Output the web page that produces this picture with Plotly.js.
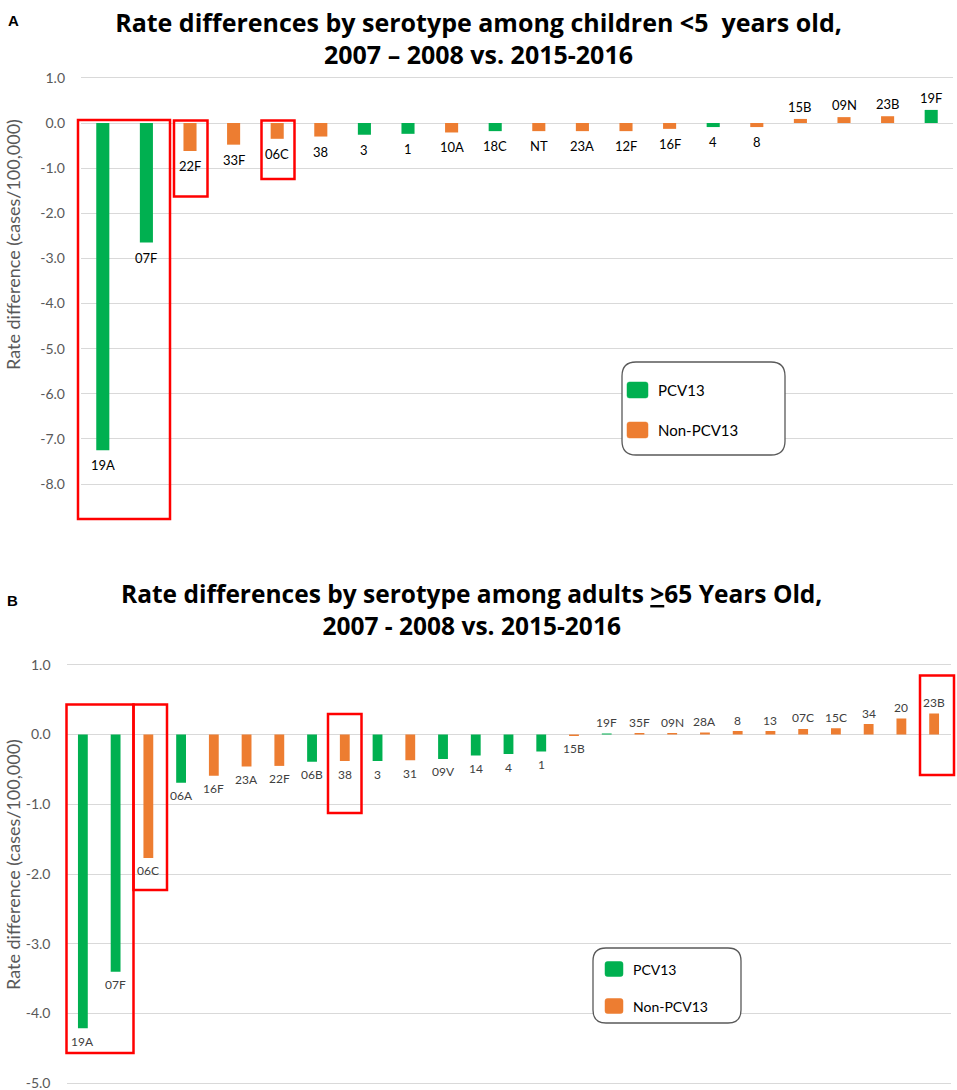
<!DOCTYPE html>
<html><head><meta charset="utf-8">
<script src="https://cdn.plot.ly/plotly-3.0.1.min.js"></script>
<style>html,body{margin:0;padding:0;background:#fff}#chart{width:957px;height:1090px}</style>
</head><body><div id="chart"></div>
<script>
// ---------- data ----------
const seriesNames = ['PCV13', 'Non-PCV13'];
const seriesColors = ['#00B050', '#ED7D31'];

const childCategories = ['19A','07F','22F','33F','06C','38','3','1','10A','18C','NT','23A','12F','16F','4','8','15B','09N','23B','19F'];
const childValues = [-7.25,-2.65,-0.62,-0.48,-0.35,-0.30,-0.26,-0.24,-0.21,-0.18,-0.18,-0.18,-0.18,-0.13,-0.09,-0.09,0.09,0.13,0.15,0.29];
const childGroup = ['PCV13','PCV13','Non-PCV13','Non-PCV13','Non-PCV13','Non-PCV13','PCV13','PCV13','Non-PCV13','PCV13','Non-PCV13','Non-PCV13','Non-PCV13','Non-PCV13','PCV13','Non-PCV13','Non-PCV13','Non-PCV13','Non-PCV13','PCV13'];

const adultCategories = ['19A','07F','06C','06A','16F','23A','22F','06B','38','3','31','09V','14','4','1','15B','19F','35F','09N','28A','8','13','07C','15C','34','20','23B'];
const adultValues = [-4.21,-3.40,-1.77,-0.69,-0.59,-0.46,-0.45,-0.39,-0.38,-0.38,-0.37,-0.35,-0.30,-0.28,-0.245,-0.02,0.015,0.02,0.02,0.03,0.05,0.05,0.08,0.09,0.15,0.23,0.30];
const adultGroup = ['PCV13','PCV13','Non-PCV13','PCV13','Non-PCV13','Non-PCV13','Non-PCV13','PCV13','Non-PCV13','PCV13','Non-PCV13','PCV13','PCV13','PCV13','PCV13','Non-PCV13','PCV13','Non-PCV13','Non-PCV13','Non-PCV13','Non-PCV13','Non-PCV13','Non-PCV13','Non-PCV13','Non-PCV13','Non-PCV13','Non-PCV13'];

const childTickVals = [1,0,-1,-2,-3,-4,-5,-6,-7,-8];
const childTickText = ['1.0','0.0','-1.0','-2.0','-3.0','-4.0','-5.0','-6.0','-7.0','-8.0'];
const adultTickVals = [1,0,-1,-2,-3,-4,-5];
const adultTickText = ['1.0','0.0','-1.0','-2.0','-3.0','-4.0','-5.0'];

const childTitle = '<b>Rate differences by serotype among children &lt;5  years old,<br>2007 – 2008 vs. 2015-2016</b>';
const adultTitle = '<b>Rate differences by serotype among adults <u>&gt;</u>65 Years Old,<br>2007 - 2008 vs. 2015-2016</b>';
const yTitle = 'Rate difference (cases/100,000)';

// ---------- helpers ----------
const W = 957, H = 1090;
const px = v => v / W;
const py = v => 1 - v / H;
const FONT = 'Lato, "Open Sans", sans-serif';
const TFONT = '"Open Sans", Lato, sans-serif';

function makeTraces(cats, vals, groups, xa, ya) {
  return seriesNames.map((name, k) => {
    const x = [], y = [];
    cats.forEach((c, i) => { if (groups[i] === name) { x.push(c); y.push(vals[i]); } });
    return { type: 'bar', name, x, y, xaxis: xa, yaxis: ya, width: 0.3,
      marker: { color: seriesColors[k], line: { width: 0 } }, showlegend: false, hoverinfo: 'x+y' };
  });
}
// labels placed at the category index (avoids numeric-looking category names being read as indices)
function labelAnns(cats, vals, xa, ya, size, color, dn, up) {
  return cats.map((c, i) => ({ xref: xa, yref: ya, x: i, y: vals[i], text: c, showarrow: false,
    xanchor: 'center', yanchor: 'middle',
    yshift: vals[i] < 0 ? -dn : up, font: { family: FONT, size, color } }));
}
function rectShape(x0, y0, x1, y1) {
  return { type: 'rect', xref: 'paper', yref: 'paper', x0: px(x0), x1: px(x1), y0: py(y1), y1: py(y0),
    line: { color: '#FF0000', width: 2.5 }, fillcolor: 'rgba(0,0,0,0)', layer: 'above' };
}
function roundPath(x0, y0, x1, y1, r) {
  return `M${px(x0 + r)},${py(y0)} L${px(x1 - r)},${py(y0)} Q${px(x1)},${py(y0)} ${px(x1)},${py(y0 + r)} ` +
    `L${px(x1)},${py(y1 - r)} Q${px(x1)},${py(y1)} ${px(x1 - r)},${py(y1)} L${px(x0 + r)},${py(y1)} ` +
    `Q${px(x0)},${py(y1)} ${px(x0)},${py(y1 - r)} L${px(x0)},${py(y0 + r)} Q${px(x0)},${py(y0)} ${px(x0 + r)},${py(y0)} Z`;
}
function roundShape(x0, y0, x1, y1, r, fill, lineColor, lw) {
  return { type: 'path', xref: 'paper', yref: 'paper', path: roundPath(x0, y0, x1, y1, r),
    fillcolor: fill, line: { color: lineColor, width: lw }, layer: 'above' };
}
function legendItems(boxX0, boxY0, boxX1, boxY1, rad, swX, swW, swH, rows, textX, size) {
  const shapes = [roundShape(boxX0, boxY0, boxX1, boxY1, rad, '#FFFFFF', '#595959', 1.3)];
  const anns = [];
  seriesNames.forEach((n, k) => {
    shapes.push(roundShape(swX, rows[k] - swH / 2, swX + swW, rows[k] + swH / 2, 2.5, seriesColors[k], seriesColors[k], 0.5));
    anns.push({ xref: 'paper', yref: 'paper', x: px(textX), y: py(rows[k]), xanchor: 'left', yanchor: 'middle',
      text: n, showarrow: false, font: { family: FONT, size, color: '#000' } });
  });
  return { shapes, anns };
}
function paperText(x, y, text, font, extra) {
  return Object.assign({ xref: 'paper', yref: 'paper', x: px(x), y: py(y), xanchor: 'center', yanchor: 'middle',
    showarrow: false, text, font }, extra || {});
}

// ---------- axes ----------
const yaxBase = { showgrid: true, gridcolor: '#D9D9D9', gridwidth: 1, zeroline: false, showline: false,
  ticks: '', tickfont: { family: FONT, size: 14, color: '#595959' }, ticklabelstandoff: 15,
  ticklabeloverflow: 'allow', fixedrange: true };
const xaxBase = { type: 'category', showgrid: false, zeroline: false, showline: false, showticklabels: false,
  ticks: '', fixedrange: true, categoryorder: 'array' };

const childZero = 123, childScale = 45.14;
const adultZero = 734.5, adultScale = 69.77;
const cTop = 70, cBot = 525, aTop = 650, aBot = 1088;

const layout = {
  width: W, height: H, margin: { l: 0, r: 0, t: 0, b: 0 }, paper_bgcolor: '#fff', plot_bgcolor: 'rgba(0,0,0,0)',
  font: { family: FONT }, barmode: 'overlay', showlegend: false,
  title: { text: childTitle, x: 0.5, xanchor: 'center', y: py(31.5), yanchor: 'middle',
    font: { family: TFONT, size: 25, color: '#000' } },
  xaxis: Object.assign({}, xaxBase, { domain: [px(81), px(953)], range: [-0.5, 19.5], categoryarray: childCategories, anchor: 'y' }),
  yaxis: Object.assign({}, yaxBase, { domain: [py(cBot), py(cTop)],
    range: [-(cBot - childZero) / childScale, (childZero - cTop) / childScale],
    tickvals: childTickVals, ticktext: childTickText, anchor: 'x' }),
  xaxis2: Object.assign({}, xaxBase, { domain: [px(66.5), px(950.5)], range: [-0.5, 26.5], categoryarray: adultCategories, anchor: 'y2' }),
  yaxis2: Object.assign({}, yaxBase, { domain: [py(aBot), py(aTop)],
    range: [-(aBot - adultZero) / adultScale, (adultZero - aTop) / adultScale],
    tickvals: adultTickVals, ticktext: adultTickText, anchor: 'x2' }),
  shapes: [], annotations: []
};

// titles, letters, axis titles
const letterFont = { family: 'Liberation Sans, Arial, sans-serif', size: 15, color: '#000' };
const axisTitleFont = { family: FONT, size: 18, color: '#595959' };
layout.annotations.push(
  paperText(471, 609.5, adultTitle, { family: TFONT, size: 24.5, color: '#000' }),
  paperText(13, 20, '<b>A</b>', letterFont),
  paperText(12, 600, '<b>B</b>', letterFont),
  paperText(13, 245, yTitle, axisTitleFont, { textangle: -90 }),
  paperText(13, 865, yTitle, axisTitleFont, { textangle: -90 })
);

// bar labels
layout.annotations.push(...labelAnns(childCategories, childValues, 'x', 'y', 13, '#000', 15, 12));
layout.annotations.push(...labelAnns(adultCategories, adultValues, 'x2', 'y2', 12, '#404040', 13, 11));

// red highlight boxes
layout.shapes.push(
  rectShape(78, 120, 170, 519), rectShape(174, 120.5, 207.5, 196.5), rectShape(261.5, 120.5, 294.5, 179),
  rectShape(66.5, 704.5, 133.5, 1053), rectShape(133.5, 704.5, 167, 890), rectShape(328, 714, 361.5, 813),
  rectShape(920, 675.5, 954, 775)
);

// legends
const lg1 = legendItems(622, 362, 785, 455, 14, 627, 21, 16, [390, 430], 656, 15);
const lg2 = legendItems(593, 948, 741, 1023, 13, 605, 18, 15, [969, 1006], 631, 14);
layout.shapes.push(...lg1.shapes, ...lg2.shapes);
layout.annotations.push(...lg1.anns, ...lg2.anns);

const data = [
  ...makeTraces(childCategories, childValues, childGroup, 'x', 'y'),
  ...makeTraces(adultCategories, adultValues, adultGroup, 'x2', 'y2')
];

Plotly.newPlot('chart', data, layout, { displayModeBar: false, staticPlot: true });
</script>
</body></html>
